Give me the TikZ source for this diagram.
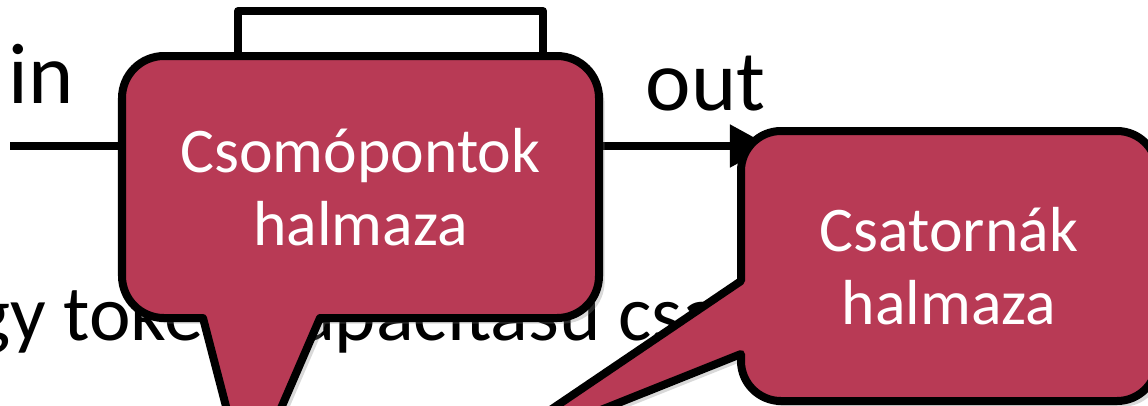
\documentclass[tikz,border=0pt]{standalone}
\usepackage{fontspec}
\setmainfont{Carlito}
\usetikzlibrary{arrows.meta,shadows}
\definecolor{bubblered}{HTML}{B83A55}

\begin{document}
\begin{tikzpicture}[x=0.01cm, y=0.01cm, line join=round,
  every node/.style={inner sep=0pt},
  bigtext/.style={font=\fontsize{24.5}{29}\selectfont},
  slidetext/.style={font=\fontsize{22.4}{27}\selectfont},
  wire/.style={line width=0.08cm},
  bubble/.style={draw=black, line width=0.08cm, fill=bubblered,
    drop shadow={shadow xshift=1.6pt, shadow yshift=-1.6pt, opacity=0.3}},
  bubbletext/.style={align=center, text=white, font=\fontsize{18.1}{20.8}\selectfont}]

  \useasboundingbox (0,0) rectangle (1148,405);
  % slide text behind the bubbles
  \node[slidetext, anchor=base west] (bodyline) at (-66,65) {Egy token kapacitású csatorna};
  % the block with its input and output
  \node[bigtext, anchor=base west] (inlabel) at (8,302) {in};
  \node[bigtext, anchor=base west] (outlabel) at (645,295) {out};
  \node[draw, fill=white, line width=0.075cm, minimum width=3.05cm, minimum height=2.7cm] (block) at (390.5,259) {};
  \coordinate (inend) at (10,259);
  \coordinate (outend) at (770,259);
  \draw[wire] (inend) -- (block.west);
  \draw[wire, -{Triangle[width=0.41cm, length=0.4cm]}] (block.east) -- (outend);

  % callouts
  \coordinate (nodesettip) at (247,-82);
  \draw[bubble] (320,87) -- (557,87) arc[start angle=-90, end angle=0, radius=42]
    -- (599,307) arc[start angle=0, end angle=90, radius=42]
    -- (164,349) arc[start angle=90, end angle=180, radius=42]
    -- (122,129) arc[start angle=180, end angle=270, radius=42]
    -- (203,87) -- (nodesettip) -- cycle;
  \node[bubbletext] (nodeset) at (360.5,218) {Csomópontok\\halmaza};

  \coordinate (channeltip) at (478,-54);
  \draw[bubble] (741,124) -- (741,234) arc[start angle=180, end angle=90, radius=40]
    -- (1117,274) arc[start angle=90, end angle=0, radius=40]
    -- (1157,44) arc[start angle=0, end angle=-90, radius=40]
    -- (781,4) arc[start angle=-90, end angle=-180, radius=40]
    -- (741,51) -- (channeltip) -- cycle;
  \node[bubbletext] (channelset) at (949,139) {Csatornák\\halmaza};
\end{tikzpicture}
\end{document}
